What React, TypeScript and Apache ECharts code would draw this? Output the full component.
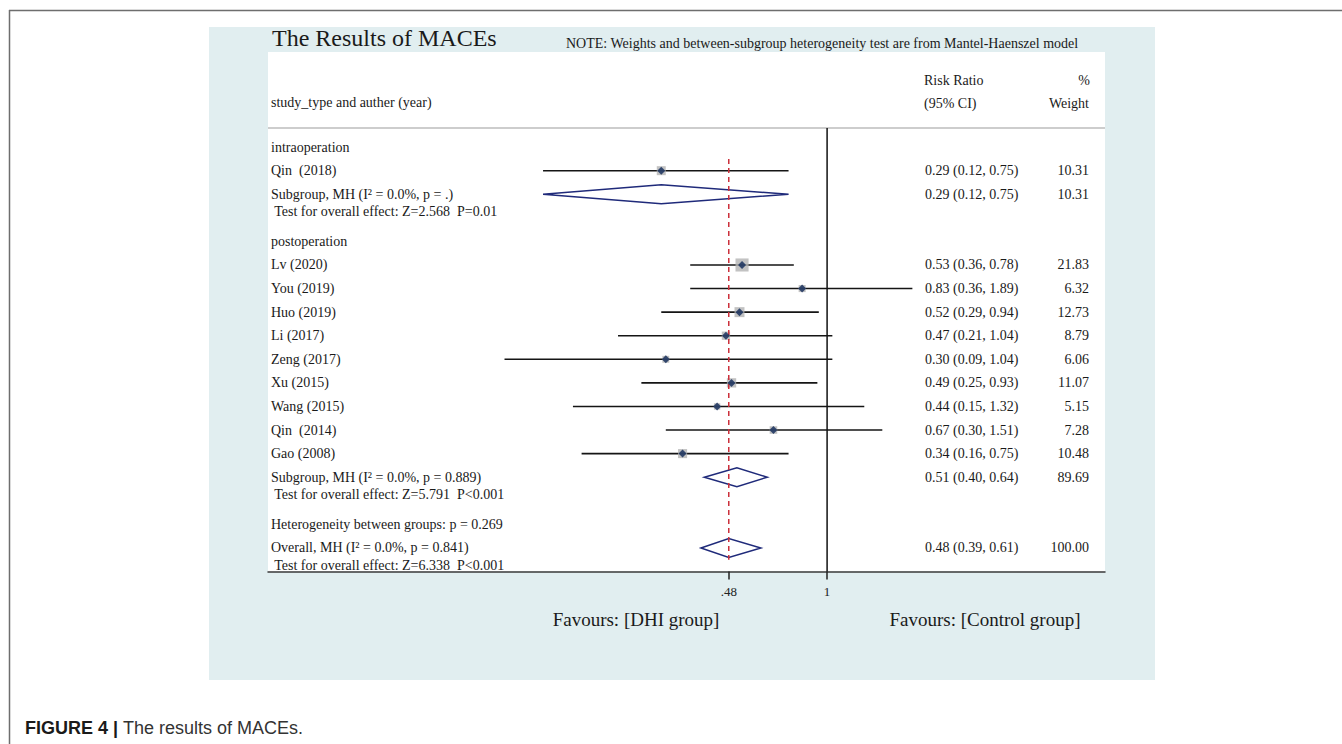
import React, { useEffect, useRef } from "react";
import * as echarts from "echarts";

const SERIF = '"Liberation Serif", "Times New Roman", Times, serif';
const SANS = '"Liberation Sans", Arial, Helvetica, sans-serif';

// ---- data ----
const labelTexts = [
  "intraoperation",
  "Qin  (2018)",
  "Subgroup, MH (I\u00B2 = 0.0%, p = .)",
  " Test for overall effect: Z=2.568  P=0.01",
  "postoperation",
  "Lv (2020)",
  "You (2019)",
  "Huo (2019)",
  "Li (2017)",
  "Zeng (2017)",
  "Xu (2015)",
  "Wang (2015)",
  "Qin  (2014)",
  "Gao (2008)",
  "Subgroup, MH (I\u00B2 = 0.0%, p = 0.889)",
  " Test for overall effect: Z=5.791  P<0.001",
  "Heterogeneity between groups: p = 0.269",
  "Overall, MH (I\u00B2 = 0.0%, p = 0.841)",
  " Test for overall effect: Z=6.338  P<0.001",
];
const labelRows = [0, 1, 2, 2.75, 4, 5, 6, 7, 8, 9, 10, 11, 12, 13, 14, 14.75, 16, 17, 17.75];

const studyRows = [1, 5, 6, 7, 8, 9, 10, 11, 12, 13];
const studyRR = [0.29, 0.53, 0.83, 0.52, 0.47, 0.3, 0.49, 0.44, 0.67, 0.34];
const studyLow = [0.12, 0.36, 0.36, 0.29, 0.21, 0.09, 0.25, 0.15, 0.3, 0.16];
const studyHigh = [0.75, 0.78, 1.89, 0.94, 1.04, 1.04, 0.93, 1.32, 1.51, 0.75];
const studyWeight = [10.31, 21.83, 6.32, 12.73, 8.79, 6.06, 11.07, 5.15, 7.28, 10.48];

const pooledRows = [2, 14, 17];
const pooledRR = [0.29, 0.51, 0.48];
const pooledLow = [0.12, 0.4, 0.39];
const pooledHigh = [0.75, 0.64, 0.61];
const pooledWeight = [10.31, 89.69, 100.0];

const overallRR = 0.48;
const nullValue = 1;
const tickValues = [0.48, 1];
const tickLabels = [".48", "1"];

// ---- axis frame ----
const X_MIN = 0.0154;
const X_MAX = 7.96;
const Y_MIN = -0.81;
const Y_MAX = 18.0;

const GRID = { left: 268, top: 128, width: 837, height: 443.5 };

const rightRows = [...studyRows, ...pooledRows];
const rightCI = [
  ...studyRR.map((r, i) => `${r.toFixed(2)} (${studyLow[i].toFixed(2)}, ${studyHigh[i].toFixed(2)})`),
  ...pooledRR.map((r, i) => `${r.toFixed(2)} (${pooledLow[i].toFixed(2)}, ${pooledHigh[i].toFixed(2)})`),
];
const rightW = [...studyWeight, ...pooledWeight].map((w) => w.toFixed(2));

function txt(text: string, x: number, y: number, size: number, align = "left", font = SERIF, fill = "#1a1a1a", weight = "normal") {
  return {
    type: "text",
    x,
    y,
    silent: true,
    style: {
      text,
      fontSize: size,
      fontFamily: font,
      fontWeight: weight,
      fill,
      textAlign: align,
      align,
      textVerticalAlign: "middle",
      verticalAlign: "middle",
    },
  };
}

export default function App() {
  const ref = useRef<HTMLDivElement>(null);

  useEffect(() => {
    const chart = echarts.init(ref.current!, null, { renderer: "svg" });

    const option: any = {
      animation: false,
      backgroundColor: "#ffffff",
      grid: { ...GRID, containLabel: false },
      xAxis: {
        type: "log",
        logBase: 10,
        min: X_MIN,
        max: X_MAX,
        axisLine: { show: true, onZero: false, lineStyle: { color: "#3a3a3a", width: 1.5 } },
        axisTick: { show: true, customValues: tickValues, length: 8, lineStyle: { color: "#222", width: 1.5 } },
        axisLabel: {
          show: true,
          customValues: tickValues,
          margin: 13,
          fontFamily: SERIF,
          fontSize: 13,
          color: "#222",
          formatter: (v: number) => {
            let best = 0;
            tickValues.forEach((t, i) => {
              if (Math.abs(t - v) < Math.abs(tickValues[best] - v)) best = i;
            });
            return tickLabels[best];
          },
        },
        splitLine: { show: false },
        minorTick: { show: false },
      },
      yAxis: { type: "value", inverse: true, min: Y_MIN, max: Y_MAX, show: false },
      graphic: [
        // page frame
        { type: "line", silent: true, shape: { x1: 9, y1: 10.5, x2: 1342, y2: 10.5 }, style: { stroke: "#6e6e6e", lineWidth: 1.5 } },
        { type: "line", silent: true, shape: { x1: 9.5, y1: 10, x2: 9.5, y2: 744 }, style: { stroke: "#6e6e6e", lineWidth: 1.5 } },
        // panels
        { type: "rect", silent: true, z: -10, shape: { x: 209, y: 27, width: 946, height: 653 }, style: { fill: "#e1eef0" } },
        { type: "rect", silent: true, z: -9, shape: { x: 268, y: 52, width: 837, height: 519.5 }, style: { fill: "#ffffff" } },
        { type: "line", silent: true, shape: { x1: 268, y1: 128, x2: 1105, y2: 128 }, style: { stroke: "#bdbdbd", lineWidth: 1.5 } },
        // titles
        txt("The Results of MACEs", 272, 38, 24),
        txt("NOTE: Weights and between-subgroup heterogeneity test are from Mantel-Haenszel model", 566, 43, 14),
        txt("study_type and auther (year)", 271, 102, 14),
        txt("Risk Ratio", 924, 80, 14),
        txt("(95% CI)", 924, 103, 14),
        txt("%", 1090, 80, 14, "right"),
        txt("Weight", 1089, 103, 14, "right"),
        txt("Favours: [DHI group]", 636, 619, 19, "center"),
        txt("Favours: [Control group]", 985, 619, 19, "center"),
        {
          type: "text",
          x: 25,
          y: 728,
          silent: true,
          style: {
            text: "{b|FIGURE 4 | }{r|The results of MACEs.}",
            textVerticalAlign: "middle",
            verticalAlign: "middle",
            rich: {
              b: { fontFamily: SANS, fontSize: 18, fontWeight: "bold", fill: "#1a1a1a" },
              r: { fontFamily: SANS, fontSize: 18, fill: "#333" },
            },
          },
        },
      ],
      series: [
        {
          name: "null line",
          type: "custom",
          z: 1,
          silent: true,
          encode: { x: 0, y: [1, 2] },
          data: [[nullValue, Y_MIN, Y_MAX]],
          renderItem: (params: any, api: any) => {
            const a = api.coord([api.value(0), api.value(1)]);
            const b = api.coord([api.value(0), api.value(2)]);
            return { type: "line", shape: { x1: a[0], y1: a[1], x2: b[0], y2: b[1] }, style: { stroke: "#111", lineWidth: 1.5 } };
          },
        },
        {
          name: "CI",
          type: "custom",
          z: 2,
          silent: true,
          encode: { x: [0, 1], y: 2 },
          data: studyRows.map((r, i) => [studyLow[i], studyHigh[i], r]),
          renderItem: (params: any, api: any) => {
            const a = api.coord([api.value(0), api.value(2)]);
            const b = api.coord([api.value(1), api.value(2)]);
            return { type: "line", shape: { x1: a[0], y1: a[1], x2: b[0], y2: b[1] }, style: { stroke: "#151515", lineWidth: 1.6 } };
          },
        },
        {
          name: "weights",
          type: "scatter",
          z: 3,
          silent: true,
          symbol: "rect",
          symbolSize: (v: number[]) => Math.sqrt(v[2]) * 2.8,
          itemStyle: { color: "#b3b3b3" },
          data: studyRows.map((r, i) => [studyRR[i], r, studyWeight[i]]),
        },
        {
          name: "pooled",
          type: "custom",
          z: 3,
          silent: true,
          encode: { x: [0, 1, 2], y: 3 },
          data: pooledRows.map((r, i) => [pooledLow[i], pooledRR[i], pooledHigh[i], r]),
          renderItem: (params: any, api: any) => {
            const row = api.value(3);
            const l = api.coord([api.value(0), row]);
            const t = api.coord([api.value(1), row - 0.4]);
            const rr = api.coord([api.value(2), row]);
            const b = api.coord([api.value(1), row + 0.4]);
            return {
              type: "polygon",
              shape: { points: [l, t, rr, b] },
              style: { fill: "none", stroke: "#1f2a7a", lineWidth: 1.5 },
            };
          },
        },
        {
          name: "overall line",
          type: "custom",
          z: 4,
          silent: true,
          encode: { x: 0, y: [1, 2] },
          data: [[overallRR, 0.5, 17.5]],
          renderItem: (params: any, api: any) => {
            const a = api.coord([api.value(0), api.value(1)]);
            const b = api.coord([api.value(0), api.value(2)]);
            return {
              type: "line",
              shape: { x1: a[0], y1: a[1], x2: b[0], y2: b[1] },
              style: { stroke: "#cc2f3a", lineWidth: 1.5, lineDash: [5, 4] },
            };
          },
        },
        {
          name: "points",
          type: "scatter",
          z: 5,
          silent: true,
          symbol: "diamond",
          symbolSize: 8,
          itemStyle: { color: "#0f2858" },
          data: studyRows.map((r, i) => [studyRR[i], r]),
        },
        {
          name: "left labels",
          type: "custom",
          z: 6,
          silent: true,
          encode: { x: 0, y: 1 },
          data: labelRows.map((r) => [X_MIN, r]),
          renderItem: (params: any, api: any) => {
            const p = api.coord([api.value(0), api.value(1)]);
            return {
              type: "text",
              x: p[0] + 3,
              y: p[1],
              style: {
                text: labelTexts[params.dataIndex],
                fontFamily: SERIF,
                fontSize: 14,
                fill: "#1a1a1a",
                align: "left",
                verticalAlign: "middle",
                textAlign: "left",
                textVerticalAlign: "middle",
              },
            };
          },
        },
        {
          name: "right columns",
          type: "custom",
          z: 6,
          silent: true,
          encode: { x: 0, y: 1 },
          data: rightRows.map((r) => [X_MAX, r]),
          renderItem: (params: any, api: any) => {
            const p = api.coord([api.value(0), api.value(1)]);
            return {
              type: "group",
              children: [
                {
                  type: "text",
                  x: p[0] - 180,
                  y: p[1],
                  style: {
                    text: rightCI[params.dataIndex],
                    fontFamily: SERIF,
                    fontSize: 14,
                    fill: "#1a1a1a",
                    align: "left",
                    verticalAlign: "middle",
                  },
                },
                {
                  type: "text",
                  x: p[0] - 16,
                  y: p[1],
                  style: {
                    text: rightW[params.dataIndex],
                    fontFamily: SERIF,
                    fontSize: 14,
                    fill: "#1a1a1a",
                    align: "right",
                    verticalAlign: "middle",
                  },
                },
              ],
            };
          },
        },
      ],
    };

    chart.setOption(option);
    return () => chart.dispose();
  }, []);

  return (
    <div
      ref={ref}
      style={{ position: "fixed", left: 0, top: 0, width: 1342, height: 744, background: "#fff" }}
    />
  );
}
